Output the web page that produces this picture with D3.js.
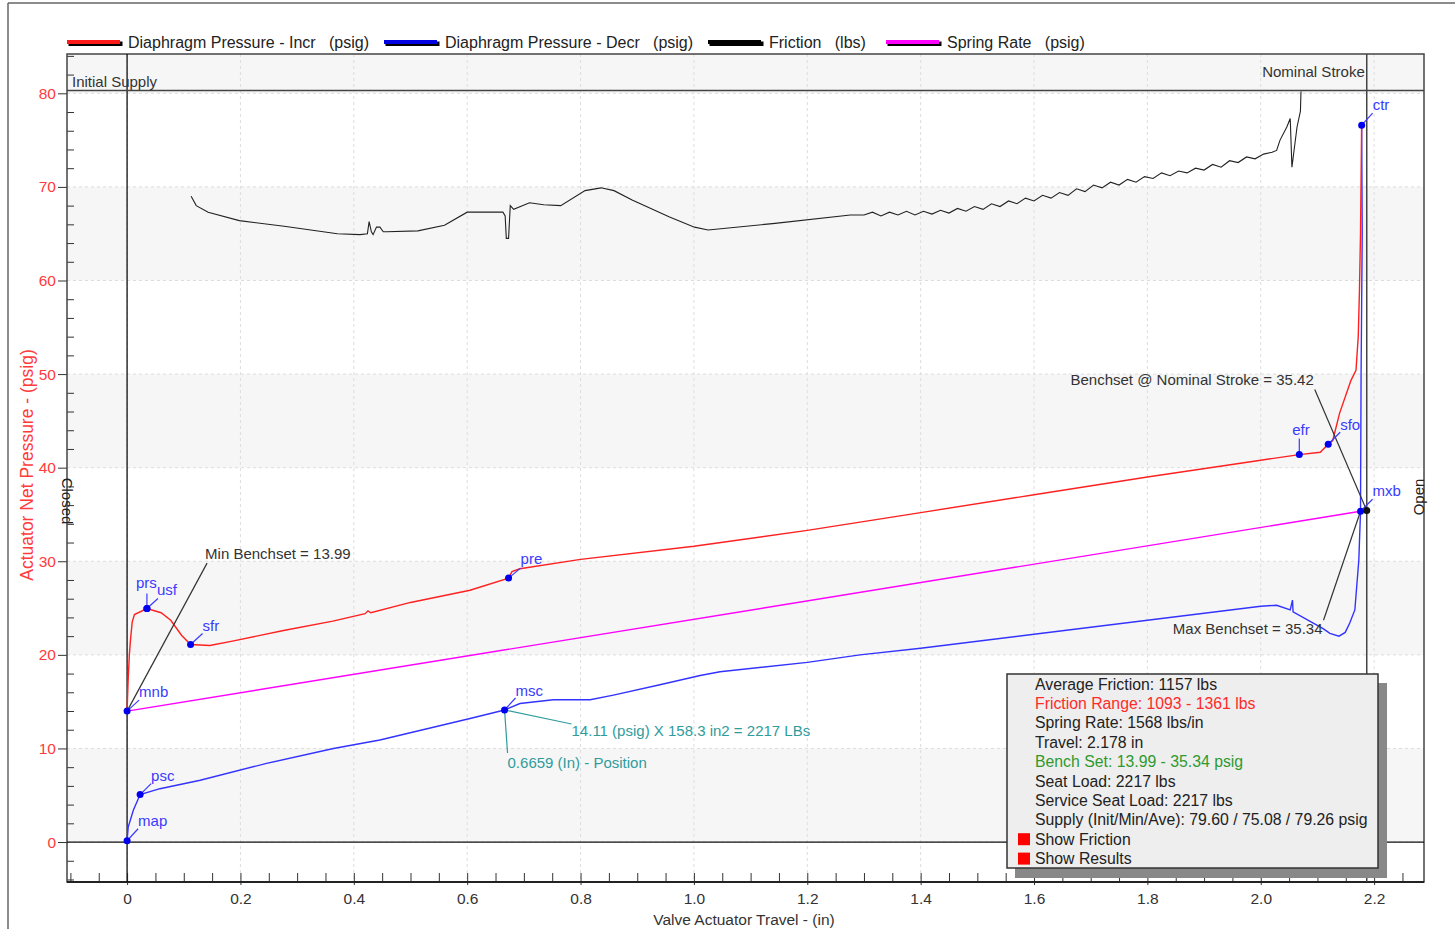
<!DOCTYPE html>
<html>
<head>
<meta charset="utf-8">
<script src="https://cdn.jsdelivr.net/npm/d3@7"></script>
<style>
  body { margin: 0; background: #fff; }
  svg { font-family: "Liberation Sans", Arial, sans-serif; }
</style>
</head>
<body>
<svg id="chart" width="1455" height="929"></svg>
<script>
// ---- data (travel in inches, pressure in psig) ----
const incrPressure = [
  [0, 13.99], [0.002, 17.5], [0.004, 20.0], [0.006, 21.6], [0.009, 23.5], [0.013, 24.3],
  [0.035, 24.95], [0.06, 24.5], [0.077, 23.7], [0.096, 22.1], [0.112, 21.1], [0.146, 21.0],
  [0.188, 21.5], [0.276, 22.6], [0.363, 23.6], [0.42, 24.4], [0.425, 24.7], [0.43, 24.5],
  [0.50, 25.6], [0.605, 26.9], [0.673, 28.2], [0.679, 28.9], [0.693, 29.2], [0.80, 30.2],
  [1.0, 31.6], [1.2, 33.3], [1.4, 35.2], [1.6, 37.1], [1.8, 39.0], [2.0, 40.8],
  [2.068, 41.4], [2.105, 41.65], [2.119, 42.5], [2.127, 42.9], [2.139, 45.8], [2.159, 49.3],
  [2.168, 50.4], [2.172, 54.0], [2.174, 58.6], [2.176, 65.0], [2.178, 76.6]
];

const decrPressure = [
  [2.178, 76.6], [2.179, 65.0], [2.177, 50.0], [2.176, 35.3], [2.173, 30.1], [2.166, 24.8],
  [2.157, 23.4], [2.149, 22.4], [2.138, 22.0], [2.122, 22.3], [2.11, 22.8], [2.057, 24.6],
  [2.056, 25.85], [2.052, 24.8], [2.028, 25.3], [2.0, 25.2], [1.8, 23.7], [1.6, 22.2],
  [1.4, 20.7], [1.293, 20.0], [1.2, 19.2], [1.046, 18.2], [1.011, 17.8], [0.94, 16.8],
  [0.858, 15.7], [0.817, 15.2], [0.752, 15.2], [0.693, 14.8], [0.6659, 14.11], [0.605, 13.2],
  [0.446, 10.9], [0.364, 10.0], [0.246, 8.4], [0.129, 6.6], [0.058, 5.7], [0.023, 5.07],
  [0.011, 3.4], [0.002, 1.6], [0, 0.14]
];

// friction trace, in the plotted (psig axis) units
const friction = [
  [0.113, 69.0], [0.122, 68.0], [0.143, 67.3], [0.198, 66.4], [0.277, 65.8], [0.371, 65.0],
  [0.411, 64.9], [0.424, 65.0], [0.427, 66.3], [0.431, 65.2], [0.434, 64.9], [0.44, 65.7],
  [0.446, 65.7], [0.452, 65.2], [0.458, 65.2], [0.513, 65.3], [0.56, 65.9], [0.6, 67.3],
  [0.663, 67.3], [0.667, 66.9], [0.669, 64.5], [0.673, 64.5], [0.676, 68.0], [0.682, 67.6],
  [0.71, 68.3], [0.735, 68.1], [0.765, 68.0], [0.808, 69.6], [0.836, 69.9], [0.859, 69.6],
  [0.891, 68.6], [0.956, 66.8], [1.001, 65.7], [1.025, 65.4], [1.143, 66.1], [1.276, 67.0],
  [1.300, 67.0], [1.315, 67.3], [1.330, 66.9], [1.345, 67.3], [1.360, 67.0], [1.375, 67.4],
  [1.390, 67.0], [1.405, 67.4], [1.420, 67.1], [1.435, 67.5], [1.450, 67.2], [1.465, 67.7],
  [1.480, 67.4], [1.495, 67.9], [1.510, 67.6], [1.525, 68.2], [1.540, 67.9], [1.555, 68.5],
  [1.570, 68.2], [1.585, 68.8], [1.600, 68.5], [1.615, 69.1], [1.630, 68.8], [1.645, 69.4],
  [1.660, 69.1], [1.675, 69.8], [1.690, 69.5], [1.705, 70.2], [1.720, 69.9], [1.735, 70.5],
  [1.750, 70.2], [1.765, 70.8], [1.780, 70.5], [1.795, 71.1], [1.810, 70.9], [1.825, 71.5],
  [1.840, 71.2], [1.855, 71.7], [1.870, 71.5], [1.885, 72.0], [1.900, 71.8], [1.915, 72.4],
  [1.930, 72.1], [1.945, 72.8], [1.960, 72.6], [1.975, 73.2], [1.990, 73.0], [2.005, 73.5],
  [2.020, 73.7], [2.028, 73.9], [2.034, 75.0], [2.046, 76.4], [2.052, 77.3],
  [2.055, 72.1], [2.064, 76.4], [2.07, 78.1], [2.071, 80.2]
];

const springRate = [[0, 13.99], [2.176, 35.34]];

const markerNames = ["map", "psc", "mnb", "prs", "usf", "sfr", "pre", "msc", "efr", "sfo", "mxb", "ctr"];
const markerX = [0, 0.023, 0, 0.035, 0.035, 0.112, 0.673, 0.6659, 2.068, 2.119, 2.176, 2.178];
const markerY = [0.14, 5.07, 13.99, 24.95, 24.95, 21.1, 28.2, 14.11, 41.4, 42.5, 35.34, 76.6];

const nominalStroke = 2.187;
const benchsetNominal = 35.42;
const initialSupplyLine = 80.3;

const xMajor = [0, 0.2, 0.4, 0.6, 0.8, 1.0, 1.2, 1.4, 1.6, 1.8, 2.0, 2.2];
const xMinor = d3.range(-0.1, 2.29, 0.05).map(v => +v.toFixed(2));
const yMajor = [0, 10, 20, 30, 40, 50, 60, 70, 80];
const yMinor = d3.range(-4, 85, 2);

const legendNames = ["Diaphragm Pressure - Incr   (psig)", "Diaphragm Pressure - Decr   (psig)", "Friction   (lbs)", "Spring Rate   (psig)"];
const legendColors = ["#ff1a1a", "#0000e0", "#000000", "#ff00ff"];

const resultLines = [
  "Average Friction: 1157 lbs",
  "Friction Range: 1093 - 1361 lbs",
  "Spring Rate: 1568 lbs/in",
  "Travel: 2.178 in",
  "Bench Set: 13.99 - 35.34 psig",
  "Seat Load: 2217 lbs",
  "Service Seat Load: 2217 lbs",
  "Supply (Init/Min/Ave): 79.60 / 75.08 / 79.26 psig",
  "Show Friction",
  "Show Results"
];
const resultColors = ["#222", "#ff2a2a", "#222", "#222", "#2e9a2e", "#222", "#222", "#222", "#222", "#222"];

// ---- layout ----
const plot = { left: 67, right: 1424, top: 54, bottom: 882 };
const svg = d3.select("#chart");

const x = d3.scaleLinear().domain([-0.106, 2.288]).range([plot.left, plot.right]);
const y = d3.scaleLinear().domain([-4.27, 84.2]).range([plot.bottom, plot.top]);

// outer frame
svg.append("line").attr("x1", 8).attr("y1", 3).attr("x2", 8).attr("y2", 929)
  .attr("stroke", "#666").attr("stroke-width", 1.5);
svg.append("line").attr("x1", 8).attr("y1", 3).attr("x2", 1455).attr("y2", 3)
  .attr("stroke", "#666").attr("stroke-width", 1.5);

// alternating bands
const bandStarts = [0, 20, 40, 60, 80];
svg.selectAll(".band").data(bandStarts).enter().append("rect")
  .attr("x", plot.left)
  .attr("width", plot.right - plot.left)
  .attr("y", d => y(Math.min(d + 10, 84.2)))
  .attr("height", d => y(d) - y(Math.min(d + 10, 84.2)))
  .attr("fill", "#f6f6f6");

// dashed grid
svg.selectAll(".vgrid").data(xMajor).enter().append("line")
  .attr("x1", d => x(d)).attr("x2", d => x(d))
  .attr("y1", plot.top).attr("y2", plot.bottom)
  .attr("stroke", "#dddddd").attr("stroke-dasharray", "3,3");
svg.selectAll(".hgrid").data(yMajor).enter().append("line")
  .attr("x1", plot.left).attr("x2", plot.right)
  .attr("y1", d => y(d)).attr("y2", d => y(d))
  .attr("stroke", "#dddddd").attr("stroke-dasharray", "3,3");

// axes
const yAxisOuter = svg.append("g")
  .attr("transform", `translate(${plot.left},0)`)
  .call(d3.axisLeft(y).tickValues(yMajor).tickSize(9).tickPadding(2).tickFormat(d3.format("d")));
yAxisOuter.select(".domain").remove();
yAxisOuter.selectAll("text").attr("fill", "#ff3b3b").style("font-size", "15.5px");
yAxisOuter.selectAll("line").attr("stroke", "#333");

const yAxisInner = svg.append("g")
  .attr("transform", `translate(${plot.left},0)`)
  .call(d3.axisRight(y).tickValues(yMinor.filter(v => !yMajor.includes(v))).tickSize(7).tickFormat(""));
yAxisInner.select(".domain").remove();
yAxisInner.selectAll("line").attr("stroke", "#333");

const xAxisTicks = svg.append("g")
  .attr("transform", `translate(0,${plot.bottom})`)
  .call(d3.axisTop(x).tickValues(xMinor).tickSize(9).tickFormat(""));
xAxisTicks.select(".domain").remove();
xAxisTicks.selectAll("line").attr("stroke", "#333");

const xAxisLabels = svg.append("g")
  .attr("transform", `translate(0,${plot.bottom})`)
  .call(d3.axisBottom(x).tickValues(xMajor).tickSize(3).tickPadding(8)
    .tickFormat(d => d === 0 ? "0" : d.toFixed(1)));
xAxisLabels.select(".domain").remove();
xAxisLabels.selectAll("text").attr("fill", "#333").style("font-size", "15.5px");
xAxisLabels.selectAll("line").attr("stroke", "#333");

// plot border
svg.append("rect")
  .attr("x", plot.left).attr("y", plot.top)
  .attr("width", plot.right - plot.left).attr("height", plot.bottom - plot.top)
  .attr("fill", "none").attr("stroke", "#444").attr("stroke-width", 1.5);
svg.append("line")
  .attr("x1", plot.left).attr("x2", plot.right)
  .attr("y1", plot.bottom).attr("y2", plot.bottom)
  .attr("stroke", "#222").attr("stroke-width", 2);

// reference lines
svg.append("line")
  .attr("x1", x(0)).attr("x2", x(0)).attr("y1", plot.top).attr("y2", plot.bottom)
  .attr("stroke", "#111").attr("stroke-width", 1.3);
svg.append("line")
  .attr("x1", plot.left).attr("x2", plot.right).attr("y1", y(0)).attr("y2", y(0))
  .attr("stroke", "#111").attr("stroke-width", 1.3);
svg.append("line")
  .attr("x1", plot.left).attr("x2", plot.right)
  .attr("y1", y(initialSupplyLine)).attr("y2", y(initialSupplyLine))
  .attr("stroke", "#444").attr("stroke-width", 1.3);
svg.append("line")
  .attr("x1", x(nominalStroke)).attr("x2", x(nominalStroke))
  .attr("y1", plot.top).attr("y2", plot.bottom)
  .attr("stroke", "#444").attr("stroke-width", 1.5);

svg.append("text")
  .attr("x", plot.left + 5).attr("y", y(initialSupplyLine) - 4)
  .style("font-size", "15px").attr("fill", "#333")
  .text("Initial Supply");
svg.append("text")
  .attr("x", x(nominalStroke) - 2).attr("y", y(initialSupplyLine) - 14)
  .attr("text-anchor", "end")
  .style("font-size", "15px").attr("fill", "#333")
  .text("Nominal Stroke");

svg.append("text")
  .attr("transform", `translate(${plot.left},${501}) rotate(90)`)
  .attr("text-anchor", "middle").attr("dy", "0.35em")
  .style("font-size", "15px").attr("fill", "#222")
  .text("Closed");
svg.append("text")
  .attr("transform", `translate(${plot.right - 5},${497}) rotate(-90)`)
  .attr("text-anchor", "middle").attr("dy", "0.35em")
  .style("font-size", "15px").attr("fill", "#222")
  .text("Open");

// axis titles
svg.append("text")
  .attr("transform", `translate(27,465) rotate(-90)`)
  .attr("text-anchor", "middle").attr("dy", "0.35em")
  .style("font-size", "17.5px").attr("fill", "#ff3b3b")
  .text("Actuator Net Pressure - (psig)");
svg.append("text")
  .attr("x", 744).attr("y", 925)
  .attr("text-anchor", "middle")
  .style("font-size", "15.5px").attr("fill", "#333")
  .text("Valve Actuator Travel - (in)");

// series
const line = d3.line().x(d => x(d[0])).y(d => y(d[1]));

svg.append("path").datum(friction)
  .attr("fill", "none").attr("stroke", "#222").attr("stroke-width", 1.1).attr("d", line);
svg.append("path").datum(springRate)
  .attr("fill", "none").attr("stroke", "#ff00ff").attr("stroke-width", 1.4).attr("d", line);
svg.append("path").datum(decrPressure)
  .attr("fill", "none").attr("stroke", "#3333ff").attr("stroke-width", 1.4).attr("d", line);
svg.append("path").datum(incrPressure)
  .attr("fill", "none").attr("stroke", "#ff2020").attr("stroke-width", 1.4).attr("d", line);

// benchset annotations (offsets in px from the anchor point)
const mnbPt = [x(0), y(13.99)];
const mxbPt = [x(2.176), y(35.34)];
const nomPt = [x(nominalStroke), y(benchsetNominal)];
const mscPt = [x(0.6659), y(14.11)];

function leader(p, dx, dy, color) {
  svg.append("line")
    .attr("x1", p[0]).attr("y1", p[1])
    .attr("x2", p[0] + dx).attr("y2", p[1] + dy)
    .attr("stroke", color).attr("stroke-width", 1.2);
}
function label(p, dx, dy, txt, color, anchor, size) {
  svg.append("text")
    .attr("x", p[0] + dx).attr("y", p[1] + dy)
    .attr("text-anchor", anchor || "start")
    .style("font-size", (size || 15) + "px")
    .attr("fill", color)
    .text(txt);
}

leader(mnbPt, 80, -148, "#333");
label(mnbPt, 78, -152, "Min Benchset = 13.99", "#333");
leader(nomPt, -52, -121, "#333");
label(nomPt, -53, -126, "Benchset @ Nominal Stroke = 35.42", "#333", "end");
leader(mxbPt, -37, 109, "#333");
label(mxbPt, -38, 123, "Max Benchset = 35.34", "#333", "end");

leader(mscPt, 67, 14, "#2f9c9c");
label(mscPt, 67, 26, "14.11 (psig) X 158.3 in2 = 2217 LBs", "#2f9c9c");
leader(mscPt, 3, 43, "#2f9c9c");
label(mscPt, 3, 58, "0.6659 (In) - Position", "#2f9c9c");

// marker points and their labels
const markerLayout = {
  map: [11, -15, 11, -12], psc: [11, -14, 11, -11], mnb: [12, -14, 12, -11],
  prs: [-11, -21, 0, -15], usf: [10, -14, 11, -10], sfr: [12, -14, 12, -11],
  pre: [12, -14, 12, -10], msc: [11, -14, 11, -12], efr: [-7, -20, 0, -16],
  sfo: [12, -14, 12, -12], mxb: [12, -15, 12, -12], ctr: [11, -15, 11, -12]
};

markerNames.forEach((name, i) => {
  const p = [x(markerX[i]), y(markerY[i])];
  const o = markerLayout[name];
  leader(p, o[2], o[3], "#3a3aff");
  label(p, o[0], o[1], name, "#3a3aff");
});

svg.selectAll(".marker").data(markerNames).enter().append("circle")
  .attr("cx", (d, i) => x(markerX[i]))
  .attr("cy", (d, i) => y(markerY[i]))
  .attr("r", 3.5)
  .attr("fill", "#0000ee");

svg.append("circle")
  .attr("cx", nomPt[0]).attr("cy", nomPt[1]).attr("r", 3.5).attr("fill", "#111");

// legend
const legendX = [67, 384, 708, 886];
legendNames.forEach((name, i) => {
  const g = svg.append("g").attr("transform", `translate(${legendX[i]},40)`);
  g.append("rect").attr("x", 1.5).attr("y", 1.5).attr("width", 54).attr("height", 4.5).attr("fill", "#000");
  g.append("rect").attr("x", 0).attr("y", 0).attr("width", 53).attr("height", 4).attr("fill", legendColors[i]);
  g.append("text")
    .attr("x", 61).attr("y", 7.5)
    .style("font-size", "16px")
    .style("white-space", "pre")
    .attr("fill", "#222")
    .text(name);
});

// results box
const box = { x: 1007, y: 674, w: 371, h: 194 };
svg.append("rect")
  .attr("x", box.x + 8).attr("y", box.y + 9).attr("width", box.w + 1).attr("height", box.h + 1)
  .attr("fill", "#888");
svg.append("rect")
  .attr("x", box.x).attr("y", box.y).attr("width", box.w).attr("height", box.h)
  .attr("fill", "#eeeeee").attr("stroke", "#333").attr("stroke-width", 1.5);

resultLines.forEach((txt, i) => {
  svg.append("text")
    .attr("x", 1035).attr("y", 689.5 + i * 19.4)
    .style("font-size", "15.8px")
    .attr("fill", resultColors[i])
    .text(txt);
  if (i >= 8) {
    svg.append("rect")
      .attr("x", 1018).attr("y", 678 + i * 19.4)
      .attr("width", 12).attr("height", 12)
      .attr("fill", "#ff0000");
  }
});
</script>
</body>
</html>
